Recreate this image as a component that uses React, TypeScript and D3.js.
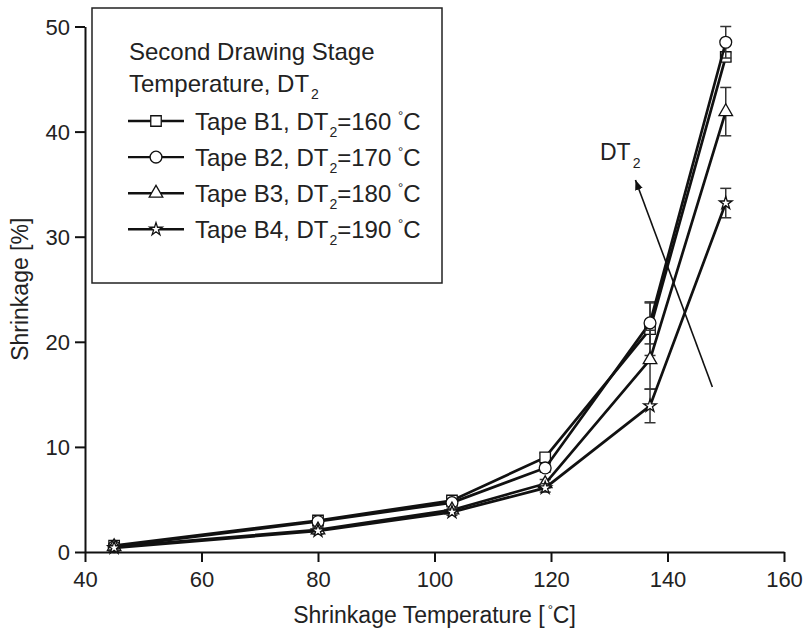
// Shrinkage vs temperature chart, drawn with D3
import React, { useEffect, useRef } from 'react';
import * as d3 from 'd3';

const temps = [45, 80, 103, 119, 137, 150];
const seriesNames = ['Tape B1', 'Tape B2', 'Tape B3', 'Tape B4'];
const seriesDT = ['160', '170', '180', '190'];
const b1 = [0.6, 3.0, 4.9, 9.0, 21.2, 47.1];
const b2 = [0.5, 2.9, 4.7, 8.0, 21.8, 48.5];
const b3 = [0.5, 2.1, 4.0, 6.5, 18.3, 41.9];
const b4 = [0.4, 2.0, 3.8, 6.1, 13.9, 33.2];
const b1Err = [0.2, 0.3, 0.3, 0.4, 2.5, 0.4];
const b2Err = [0.2, 0.3, 0.3, 0.4, 2.0, 1.5];
const b3Err = [0.2, 0.3, 0.3, 0.4, 2.8, 2.3];
const b4Err = [0.2, 0.3, 0.3, 0.4, 1.6, 1.4];
const xTicks = [40, 60, 80, 100, 120, 140, 160];
const yTicks = [0, 10, 20, 30, 40, 50];
// arrow drawn in data units: [x, y] start and tip
const arrowFrom = [147.7, 15.7];
const arrowTo = [134.5, 35.4];

const FONT = '"Liberation Sans", Arial, sans-serif';

const App = () => {
  const svgRef = useRef<SVGSVGElement>(null);

  useEffect(() => {
    if (!svgRef.current) return;
    const svg = d3.select(svgRef.current);
    svg.selectAll('*').remove();

    const margin = { top: 26.5, left: 85, right: 19, bottom: 81 };
    const width = 803, height = 633;

    const x = d3.scaleLinear().domain([40, 160]).range([margin.left, width - margin.right]);
    const y = d3.scaleLinear().domain([0, 50]).range([height - margin.bottom, margin.top]);

    const defs = svg.append('defs');
    defs.append('marker')
      .attr('id', 'arrowhead')
      .attr('viewBox', '0 0 10 8')
      .attr('refX', 10).attr('refY', 4)
      .attr('markerWidth', 10).attr('markerHeight', 8)
      .attr('markerUnits', 'userSpaceOnUse')
      .attr('orient', 'auto')
      .append('path').attr('d', 'M0,0 L10,4 L0,8 Z').attr('fill', '#111');

    // axes
    const xAxis = svg.append('g')
      .attr('transform', `translate(0,${y(0)})`)
      .call(d3.axisBottom(x).tickValues(xTicks).tickSize(10).tickSizeOuter(0).tickPadding(9));
    const yAxis = svg.append('g')
      .attr('transform', `translate(${x(40)},0)`)
      .call(d3.axisLeft(y).tickValues(yTicks).tickSize(10).tickSizeOuter(0).tickPadding(5));
    [xAxis, yAxis].forEach(a => {
      a.select('.domain').attr('stroke', '#111').attr('stroke-width', 2);
      a.selectAll('.tick line').attr('stroke', '#111').attr('stroke-width', 2);
      a.selectAll('.tick text').attr('font-family', FONT).attr('font-size', 22).attr('fill', '#222');
    });
    yAxis.selectAll('.tick text').attr('dy', '0.36em');

    // axis titles
    const xTitle = svg.append('text')
      .attr('x', (x(40) + x(160)) / 2).attr('y', 623)
      .attr('text-anchor', 'middle')
      .attr('font-family', FONT).attr('font-size', 23).attr('fill', '#222');
    xTitle.append('tspan').text('Shrinkage Temperature [');
    xTitle.append('tspan').attr('font-size', 13).attr('dx', 3).attr('dy', -9).text('°');
    xTitle.append('tspan').attr('dy', 9).text('C]');

    svg.append('text')
      .attr('transform', `translate(28,${(y(0) + y(50)) / 2}) rotate(-90)`)
      .attr('text-anchor', 'middle')
      .attr('font-family', FONT).attr('font-size', 23).attr('fill', '#222')
      .text('Shrinkage [%]');

    const series = [
      { vals: b1, err: b1Err, sym: d3.symbolSquare, size: 110 },
      { vals: b2, err: b2Err, sym: d3.symbolCircle, size: 110 },
      { vals: b3, err: b3Err, sym: d3.symbolTriangle, size: 80 },
      { vals: b4, err: b4Err, sym: d3.symbolStar, size: 50 },
    ];

    const line = d3.line<number>().x((_, i) => x(temps[i])).y(d => y(d));

    series.forEach(s => {
      const g = svg.append('g');
      // error bars
      s.vals.forEach((v, i) => {
        const cx = x(temps[i]);
        const top = y(v + s.err[i]);
        const bot = y(v - s.err[i]);
        g.append('line').attr('x1', cx).attr('x2', cx).attr('y1', top).attr('y2', bot)
          .attr('stroke', '#333').attr('stroke-width', 1.5);
        [top, bot].forEach(yy => g.append('line')
          .attr('x1', cx - 5.5).attr('x2', cx + 5.5).attr('y1', yy).attr('y2', yy)
          .attr('stroke', '#333').attr('stroke-width', 1.5));
      });
      g.append('path').datum(s.vals)
        .attr('d', line)
        .attr('fill', 'none').attr('stroke', '#111').attr('stroke-width', 2.7);
      g.selectAll('.pt').data(s.vals).enter().append('path')
        .attr('transform', (d, i) => `translate(${x(temps[i])},${y(d)})`)
        .attr('d', d3.symbol(s.sym, s.size)())
        .attr('fill', '#fff').attr('stroke', '#111').attr('stroke-width', 1.3);
    });

    // arrow and label
    svg.append('line')
      .attr('x1', x(arrowFrom[0])).attr('y1', y(arrowFrom[1]))
      .attr('x2', x(arrowTo[0])).attr('y2', y(arrowTo[1]))
      .attr('stroke', '#111').attr('stroke-width', 1.6)
      .attr('marker-end', 'url(#arrowhead)');
    const dtLabel = svg.append('text')
      .attr('x', 600).attr('y', 160)
      .attr('font-family', FONT).attr('font-size', 23).attr('fill', '#222');
    dtLabel.append('tspan').text('DT');
    dtLabel.append('tspan').attr('font-size', 14).attr('dx', 2).attr('dy', 8).text('2');

    // legend
    const lg = svg.append('g');
    lg.append('rect')
      .attr('x', 92).attr('y', 8).attr('width', 350).attr('height', 275)
      .attr('fill', '#fff').attr('stroke', '#222').attr('stroke-width', 1.5);
    lg.append('text').attr('x', 129).attr('y', 60)
      .attr('font-family', FONT).attr('font-size', 24).attr('fill', '#222')
      .text('Second Drawing Stage');
    const h2 = lg.append('text').attr('x', 129).attr('y', 92)
      .attr('font-family', FONT).attr('font-size', 24).attr('fill', '#222');
    h2.append('tspan').text('Temperature, DT');
    h2.append('tspan').attr('font-size', 14).attr('dx', 2).attr('dy', 7).text('2');

    series.forEach((s, i) => {
      const base = 129.5 + i * 36.1;
      const cy = base - 8.5;
      lg.append('line').attr('x1', 128).attr('x2', 184).attr('y1', cy).attr('y2', cy)
        .attr('stroke', '#111').attr('stroke-width', 2.4);
      lg.append('path')
        .attr('transform', `translate(156,${cy})`)
        .attr('d', d3.symbol(s.sym, s.size)())
        .attr('fill', '#fff').attr('stroke', '#111').attr('stroke-width', 1.3);
      const t = lg.append('text').attr('x', 195).attr('y', base)
        .attr('font-family', FONT).attr('font-size', 24).attr('fill', '#222');
      t.append('tspan').text(`${seriesNames[i]}, DT`);
      t.append('tspan').attr('font-size', 14).attr('dx', 1).attr('dy', 7).text('2');
      t.append('tspan').attr('dy', -7).text(`=${seriesDT[i]} `);
      t.append('tspan').attr('font-size', 13).attr('dy', -10).text('°');
      t.append('tspan').attr('dy', 10).text('C');
    });
  }, []);

  return (
    <div style={{ position: 'absolute', left: 0, top: 0 }}>
      <svg ref={svgRef} width={803} height={633} style={{ display: 'block', background: '#fff' }} />
    </div>
  );
};

export default App;
